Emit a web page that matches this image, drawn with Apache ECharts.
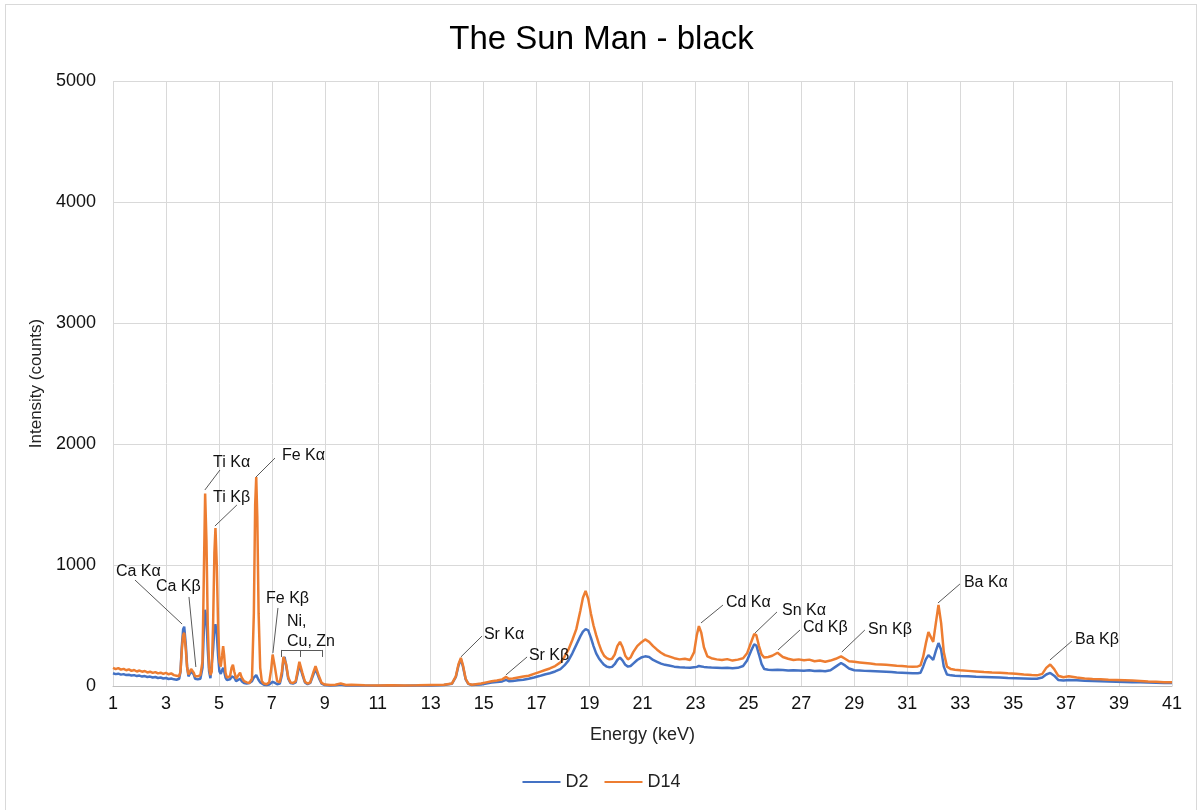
<!DOCTYPE html>
<html>
<head>
<meta charset="utf-8">
<script src="https://cdn.jsdelivr.net/npm/echarts@6/dist/echarts.min.js"></script>
<style>
  html, body { margin: 0; padding: 0; background: #fff; }
  #frame { position: absolute; left: 5px; top: 4px; width: 1192px; height: 810px; border: 1px solid #d9d9d9; box-sizing: border-box; }
  #chart { position: absolute; left: 0; top: 0; width: 1203px; height: 810px; }
</style>
</head>
<body>
<div id="frame"></div>
<div id="chart"></div>
<script>
// energy (keV)
var energy = [
  1.0, 1.1, 1.2, 1.3, 1.4, 1.5, 1.6, 1.7, 1.8, 1.9, 2.0, 2.1, 2.2, 2.3, 2.4, 2.5, 2.6, 2.7, 2.8, 2.9, 3.0, 3.1, 3.2, 3.3, 3.4, 3.5,
  3.55, 3.6, 3.65, 3.69, 3.75, 3.8, 3.85, 3.9, 3.95, 4.0, 4.05, 4.1, 4.15, 4.2, 4.3,
  4.38, 4.43, 4.48, 4.53, 4.58, 4.63, 4.68, 4.73, 4.78, 4.83, 4.87, 4.92, 4.97, 5.02, 5.07, 5.12, 5.16, 5.2, 5.25, 5.3, 5.35,
  5.42, 5.48, 5.53, 5.58, 5.65, 5.72, 5.8, 5.86, 5.95, 6.05, 6.15, 6.25, 6.32, 6.37, 6.41, 6.45, 6.5, 6.56, 6.62, 6.7, 6.8, 6.9,
  6.97, 7.03, 7.06, 7.12, 7.2, 7.3, 7.38, 7.44, 7.48, 7.54, 7.62, 7.7, 7.8, 7.9, 7.98, 8.04, 8.08, 8.15, 8.25, 8.35, 8.45,
  8.58, 8.65, 8.7, 8.78, 8.88, 9.0, 9.2, 9.4, 9.6, 9.8, 10.0, 10.5, 11, 11.5, 12, 12.5, 13, 13.5, 13.8, 13.95, 14.05, 14.14,
  14.22, 14.32, 14.42, 14.55, 14.7, 14.9, 15.1, 15.3, 15.5, 15.7, 15.85, 15.95, 16.1, 16.3, 16.5, 16.7, 16.9, 17.1, 17.3, 17.5,
  17.7, 17.9, 18.05, 18.2, 18.35, 18.5, 18.65, 18.75, 18.85, 18.95, 19.05, 19.15, 19.25, 19.35, 19.45, 19.55, 19.65, 19.75,
  19.85, 19.95, 20.05, 20.15, 20.25, 20.35, 20.45, 20.55, 20.65, 20.8, 20.95, 21.1, 21.25, 21.4, 21.55, 21.7, 21.85, 22.0,
  22.2, 22.4, 22.6, 22.8, 22.95, 23.05, 23.13, 23.22, 23.32, 23.45, 23.6, 23.8, 24.0, 24.2, 24.4, 24.6, 24.8, 24.95, 25.1,
  25.22, 25.3, 25.4, 25.5, 25.6, 25.75, 25.9, 26.1, 26.3, 26.5, 26.7, 26.9, 27.1, 27.3, 27.5, 27.7, 27.9, 28.1, 28.3, 28.5,
  28.65, 28.8, 29.0, 29.2, 29.4, 29.6, 29.8, 30.0, 30.2, 30.4, 30.6, 30.8, 31.0, 31.2, 31.4, 31.5, 31.6, 31.7, 31.8, 31.9,
  31.98, 32.08, 32.18, 32.28, 32.38, 32.5, 32.65, 32.8, 33.0, 33.3, 33.6, 33.9, 34.2, 34.5, 34.8, 35.1, 35.4, 35.7, 35.9,
  36.1, 36.25, 36.4, 36.55, 36.7, 36.9, 37.1, 37.4, 37.7, 38.0, 38.3, 38.6, 38.9, 39.2, 39.5, 39.8, 40.1, 40.4, 40.7, 41.0
];

// D2 counts
var d2 = [
  105, 98, 102, 94, 98, 90, 93, 86, 90, 82, 86, 78, 82, 74, 78, 70, 74, 66, 70, 62, 66, 58, 62, 55, 52, 60,
  120, 330, 470, 490, 340, 160, 80, 80, 120, 135, 95, 60, 55, 55, 60,
  150, 450, 630, 560, 300, 120, 65, 80, 300, 480, 510, 430, 250, 120, 100, 130, 150, 120, 70, 50, 45,
  55, 80, 90, 70, 40, 45, 60, 40, 25, 20, 25, 40, 70, 85, 90, 80, 50, 30, 15, 10, 8, 12,
  25, 35, 35, 25, 15, 20, 90, 220, 240, 170, 60, 25, 20, 30, 110, 175, 170, 95, 30, 15, 25,
  100, 140, 135, 65, 20, 8, 5, 6, 12, 5, 6, 4, 3, 4, 3, 4, 5, 8, 18, 75, 170, 220,
  160, 55, 18, 8, 10, 12, 20, 28, 32, 38, 50, 40, 42, 48, 52, 60, 70, 82, 95, 105,
  120, 140, 170, 210, 270, 340, 410, 450, 470, 460, 400, 330, 270, 230, 200, 175, 160, 155,
  158, 180, 215, 235, 210, 175, 160, 165, 185, 215, 235, 245, 240, 215, 200, 185, 175, 170,
  160, 155, 152, 150, 155, 158, 165, 162, 158, 155, 152, 150, 148, 150, 146, 150, 165, 210, 290,
  345, 335, 260, 180, 140, 135, 132, 135, 132, 128, 130, 128, 126, 130, 124, 126, 122, 130, 160, 190,
  170, 145, 130, 128, 125, 124, 122, 120, 118, 116, 112, 110, 108, 105, 106, 110, 160, 220, 255, 235,
  215, 290, 355, 300, 160, 95, 88, 85, 82, 80, 76, 74, 72, 70, 66, 64, 62, 60, 60,
  70, 95, 108, 85, 50, 45, 50, 48, 44, 42, 40, 38, 36, 34, 32, 30, 28, 26, 25, 24
];

// D14 counts
var d14 = [
  150, 140, 148, 135, 142, 130, 138, 125, 132, 120, 128, 118, 124, 112, 118, 108, 115, 104, 110, 100, 108, 97, 104, 90, 85, 80,
  120, 300, 420, 440, 300, 150, 95, 100, 140, 150, 110, 80, 75, 80, 90,
  200, 900, 1590, 1200, 500, 150, 90, 120, 500, 1100, 1305, 1000, 500, 200, 160, 250, 330, 250, 110, 70, 60,
  80, 150, 175, 120, 60, 70, 110, 70, 40, 30, 25, 60, 600, 1500, 1727, 1400, 600, 150, 40, 20, 15, 30,
  130, 260, 265, 150, 40, 30, 120, 240, 250, 180, 70, 30, 25, 40, 130, 200, 195, 110, 35, 20, 30,
  120, 165, 160, 80, 25, 12, 8, 10, 20, 8, 10, 6, 4, 6, 5, 6, 8, 10, 20, 80, 180, 232,
  170, 60, 20, 10, 15, 20, 30, 40, 45, 55, 75, 60, 62, 70, 78, 85, 100, 115, 130, 145,
  165, 195, 240, 300, 380, 470, 620, 730, 785, 720, 600, 500, 420, 350, 290, 250, 230, 220,
  225, 260, 330, 365, 320, 250, 220, 235, 280, 330, 360, 385, 365, 330, 300, 275, 255, 245,
  230, 220, 225, 215, 280, 420, 495, 440, 320, 245, 230, 220, 215, 222, 210, 218, 230, 270, 360,
  430, 420, 330, 260, 235, 240, 250, 275, 240, 225, 215, 220, 212, 218, 205, 210, 200, 210, 225, 245,
  225, 205, 200, 195, 190, 185, 180, 178, 175, 172, 168, 165, 162, 160, 162, 170, 240, 350, 445, 400,
  365, 520, 670, 520, 280, 160, 140, 135, 130, 125, 120, 115, 112, 110, 105, 102, 95, 90, 88,
  100, 150, 178, 140, 85, 72, 80, 70, 62, 58, 55, 52, 50, 48, 45, 42, 38, 35, 32, 30
];

// peak labels: text, label anchor [keV, counts], leader line from -> to
var peakNames = ["Ca K\u03b1", "Ca K\u03b2", "Ti K\u03b1", "Ti K\u03b2", "Fe K\u03b1", "Fe K\u03b2", "Ni,", "Cu, Zn",
  "Sr K\u03b1", "Sr K\u03b2", "Cd K\u03b1", "Sn K\u03b1", "Cd K\u03b2", "Sn K\u03b2", "Ba K\u03b1", "Ba K\u03b2"];
var peakLabelAt = [[1.11, 942], [2.62, 818], [4.78, 1843], [4.78, 1554], [7.38, 1901], [6.78, 719], [7.57, 529], [7.57, 364],
  [15.01, 421], [16.71, 248], [24.15, 686], [26.27, 620], [27.06, 479], [29.52, 463], [33.14, 851], [37.34, 380]];
var leaderLines = [
  [[1.83, 876], [3.61, 512]], [[3.87, 736], [4.13, 157]], [[5.04, 1785], [4.47, 1620]], [[5.68, 1496], [4.85, 1322]],
  [[7.12, 1884], [6.40, 1727]], [[7.23, 645], [7.04, 273]],
  [[7.35, 298], [8.89, 298]], [[7.35, 298], [7.35, 240]], [[8.06, 298], [8.06, 240]], [[8.89, 298], [8.89, 240]],
  [[14.94, 413], [14.14, 240]], [[16.64, 240], [15.84, 91]], [[24.04, 669], [23.21, 521]], [[26.08, 612], [25.25, 438]],
  [[26.95, 463], [26.12, 298]], [[29.40, 463], [28.53, 281]], [[32.99, 843], [32.16, 686]], [[37.22, 372], [36.39, 215]]
];

var chartDom = echarts.init(document.getElementById("chart"));
var font = "Liberation Sans, Arial, sans-serif";

var d2Data = energy.map(function(e, i) { return [e, d2[i]]; });
var d14Data = energy.map(function(e, i) { return [e, d14[i]]; });
var labelData = peakNames.map(function(n, i) {
  return { name: n, value: peakLabelAt[i] };
});

var option = {
  animation: false,
  textStyle: { fontFamily: font },
  title: {
    text: "The Sun Man - black",
    left: "center",
    top: 18,
    textStyle: { fontSize: 33, fontWeight: "normal", color: "#000", fontFamily: font }
  },
  legend: {
    data: ["D2", "D14"],
    bottom: 14,
    left: "center",
    icon: "rect",
    itemWidth: 38,
    itemHeight: 2,
    itemGap: 16,
    textStyle: { fontSize: 18, color: "#222", fontFamily: font }
  },
  grid: { left: 113, right: 31, top: 81, bottom: 124 },
  xAxis: {
    type: "value",
    min: 1,
    max: 41,
    interval: 2,
    name: "Energy (keV)",
    nameLocation: "middle",
    nameGap: 40,
    nameTextStyle: { fontSize: 18, color: "#222" },
    axisLine: { lineStyle: { color: "#bfbfbf", width: 1 } },
    axisTick: { show: false },
    axisLabel: { fontSize: 18, color: "#111", margin: 9 },
    splitLine: { show: true, lineStyle: { color: "#d9d9d9", width: 1 } }
  },
  yAxis: {
    type: "value",
    min: 0,
    max: 5000,
    interval: 1000,
    name: "Intensity (counts)",
    nameLocation: "middle",
    nameGap: 62,
    nameTextStyle: { fontSize: 17, color: "#222" },
    axisLine: { show: false },
    axisTick: { show: false },
    axisLabel: { fontSize: 18, color: "#111", margin: 17, formatter: function(v) { return String(v); } },
    splitLine: { show: true, lineStyle: { color: "#d9d9d9", width: 1 } }
  },
  series: [
    {
      name: "D2",
      type: "line",
      data: d2Data,
      symbol: "none",
      lineStyle: { color: "#4472C4", width: 2.5 },
      itemStyle: { color: "#4472C4" },
      z: 2
    },
    {
      name: "D14",
      type: "line",
      data: d14Data,
      symbol: "none",
      lineStyle: { color: "#ED7D31", width: 2.5 },
      itemStyle: { color: "#ED7D31" },
      z: 3
    },
    {
      name: "peaks",
      type: "scatter",
      data: labelData,
      symbolSize: 0,
      silent: true,
      z: 5,
      itemStyle: { opacity: 1, color: "#111" },
      label: {
        show: true,
        position: "inside",
        align: "left",
        verticalAlign: "middle",
        formatter: "{b}",
        fontSize: 16,
        color: "#111",
        fontFamily: font
      },
      markLine: {
        silent: true,
        symbol: ["none", "none"],
        label: { show: false },
        lineStyle: { color: "#595959", width: 1, type: "solid", opacity: 1 },
        data: leaderLines.map(function(l) {
          return [{ coord: l[0] }, { coord: l[1] }];
        })
      }
    }
  ]
};

chartDom.setOption(option);
</script>
</body>
</html>
